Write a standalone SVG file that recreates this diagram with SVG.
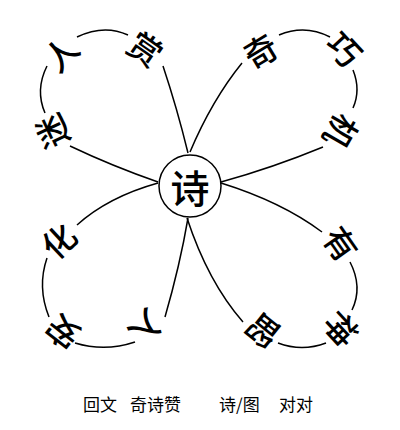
<svg xmlns="http://www.w3.org/2000/svg" width="400" height="430" viewBox="0 0 400 430">
<style>
.c{font-family:"Noto Sans CJK SC","Noto Sans CJK JP",sans-serif;font-size:33px;font-weight:500;fill:#000;text-anchor:middle;dominant-baseline:central}
.ln{fill:none;stroke:#000;stroke-width:1.5}
.cap{font-family:"Noto Sans CJK SC","Noto Sans CJK JP",sans-serif;font-size:17px;fill:#000}
</style>
<rect width="400" height="430" fill="#fff"/>
<g id="connectors">
<path class="ln" d="M188,153 Q177,108 163,66"/>
<path class="ln" d="M128,35 Q104,24 77,37"/>
<path class="ln" d="M47,66 Q35,90 45,113"/>
<path class="ln" d="M70,146 Q112,166 158,182"/>
<path class="ln" d="M190,152 Q212,100 242,63"/>
<path class="ln" d="M279,35 Q305,24 330,37"/>
<path class="ln" d="M353,70 Q361,90 353,108"/>
<path class="ln" d="M323,147 Q272,168 221,182"/>
<path class="ln" d="M221,183 Q282,202 322,232"/>
<path class="ln" d="M350,262 Q363,287 352,310"/>
<path class="ln" d="M326,343 Q302,352 278,343"/>
<path class="ln" d="M243,322 Q208,282 187,218"/>
<path class="ln" d="M158,183 Q108,197 77,225"/>
<path class="ln" d="M47,258 Q37,287 49,317"/>
<path class="ln" d="M75,343 Q105,352 135,342"/>
<path class="ln" d="M165,317 Q180,265 188,218"/>
</g>
<g id="center">
<circle cx="190" cy="186" r="31" fill="#fff" stroke="#000" stroke-width="1.5"/>
<text class="c" x="190" y="186" style="font-size:39px">诗</text>
</g>
<g id="n-shang"><text class="c" transform="translate(146,48) rotate(35)">赏</text></g>
<g id="n-ren"><text class="c" transform="translate(60,53) rotate(-45)">人</text></g>
<g id="n-mi"><text class="c" transform="translate(51,132) rotate(-115)">迷</text></g>
<g id="n-qi"><text class="c" transform="translate(260,50) rotate(-31)">奇</text></g>
<g id="n-qiao"><text class="c" transform="translate(345,48) rotate(47)">巧</text></g>
<g id="n-ji"><text class="c" transform="translate(342,132) rotate(120)">机</text></g>
<g id="n-you"><text class="c" transform="translate(342,243) rotate(55)">有</text></g>
<g id="n-shen"><text class="c" transform="translate(342,330) rotate(137)">神</text></g>
<g id="n-liu"><text class="c" transform="translate(262,332) rotate(219)">留</text></g>
<g id="n-hua"><text class="c" transform="translate(58,240) rotate(-43)">化</text></g>
<g id="n-an"><text class="c" transform="translate(62,333) rotate(-142)">安</text></g>
<g id="n-ru"><text class="c" transform="translate(148,328) rotate(132)">入</text></g>
<g id="caption">
<text class="cap" y="411"><tspan x="83">回文</tspan><tspan x="130">奇诗赞</tspan><tspan x="219">诗/图</tspan><tspan x="279">对对</tspan></text>
</g>
</svg>
